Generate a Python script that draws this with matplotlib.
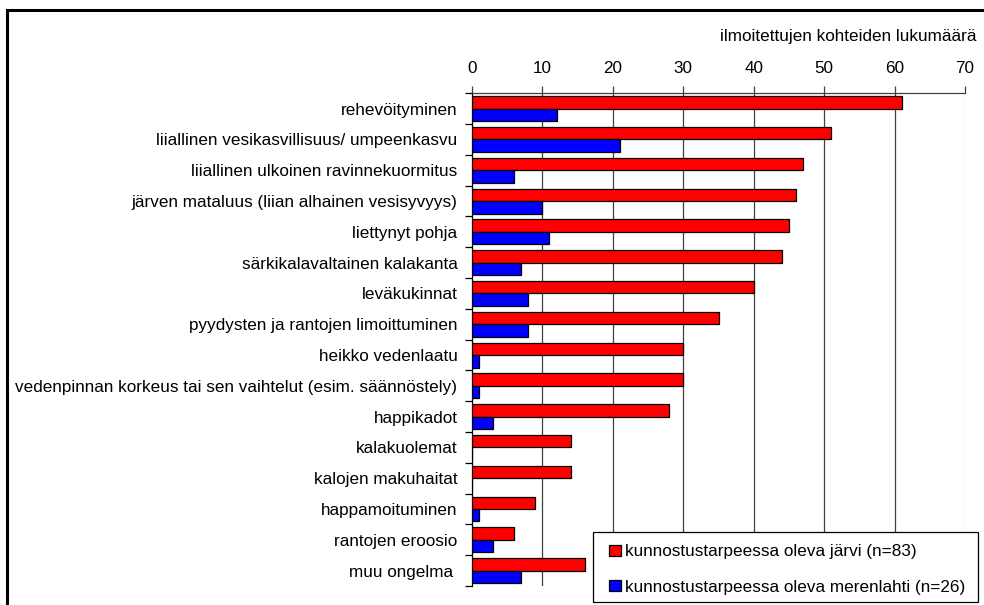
import matplotlib
matplotlib.use("Agg")
import matplotlib.pyplot as plt
from matplotlib.patches import Rectangle
import numpy as np

plt.rcParams['font.family'] = ['Liberation Sans', 'DejaVu Sans']

categories = [
    "rehevöityminen",
    "liiallinen vesikasvillisuus/ umpeenkasvu",
    "liiallinen ulkoinen ravinnekuormitus",
    "järven mataluus (liian alhainen vesisyvyys)",
    "liettynyt pohja",
    "särkikalavaltainen kalakanta",
    "leväkukinnat",
    "pyydysten ja rantojen limoittuminen",
    "heikko vedenlaatu",
    "vedenpinnan korkeus tai sen vaihtelut (esim. säännöstely)",
    "happikadot",
    "kalakuolemat",
    "kalojen makuhaitat",
    "happamoituminen",
    "rantojen eroosio",
    "muu ongelma ",
]
jarvi = [61, 51, 47, 46, 45, 44, 40, 35, 30, 30, 28, 14, 14, 9, 6, 16]
merenlahti = [12, 21, 6, 10, 11, 7, 8, 8, 1, 1, 3, 0, 0, 1, 3, 7]
xticks = [0, 10, 20, 30, 40, 50, 60, 70]
series_labels = ["kunnostustarpeessa oleva järvi (n=83)",
                 "kunnostustarpeessa oleva merenlahti (n=26)"]
axis_title = "ilmoitettujen kohteiden lukumäärä"

FS = 12.3
W, H = 984, 605
fig = plt.figure(figsize=(W / 100, H / 100), dpi=100)
ax = fig.add_axes([472 / W, 1 - 586 / H, (965 - 472) / W, (586 - 93.3) / H])

y = np.arange(len(categories))
h = 0.405
ax.barh(y - h / 2, jarvi, height=h, color='#ff0000', edgecolor='black', linewidth=0.9, zorder=3)
ax.barh(y + h / 2, merenlahti, height=h, color='#0000ff', edgecolor='black', linewidth=0.9, zorder=3)

ax.set_xlim(0, 70)
ax.set_ylim(len(categories) - 0.5, -0.5)

ax.xaxis.tick_top()
ax.set_xticks(xticks)
ax.set_xticklabels([str(v) for v in xticks], fontsize=FS)
ax.tick_params(axis='x', direction='out', length=5, width=0.9, color='#404040', pad=7.5)

ax.set_yticks(y)
ax.set_yticklabels(categories, fontsize=FS)
ax.set_yticks(np.arange(len(categories) + 1) - 0.5, minor=True)
ax.tick_params(axis='y', which='major', length=0, pad=10.5)
ax.tick_params(axis='y', which='minor', length=5, width=0.9, color='black', direction='out')

for v in xticks[1:-1]:
    ax.axvline(v, color='#404040', linewidth=0.9, zorder=1)
ax.axvline(70, color='#c8c8c8', linewidth=0.9, zorder=1)

for s in ['right', 'bottom']:
    ax.spines[s].set_visible(False)
ax.spines['top'].set_color('#404040')
ax.spines['top'].set_linewidth(0.9)
ax.spines['left'].set_color('black')
ax.spines['left'].set_linewidth(0.9)

fig.text(976 / W, 1 - 37 / H, axis_title, ha='right', va='center', fontsize=FS)

# legend box
legbox = Rectangle((593.3 / W, 1 - 601.7 / H), (978 - 593.3) / W, (601.7 - 532.3) / H,
                   transform=fig.transFigure, facecolor='white', edgecolor='black',
                   linewidth=0.9, zorder=5)
fig.add_artist(legbox)

handles = [Rectangle((0, 0), 1, 1, facecolor='#ff0000', edgecolor='black', linewidth=0.9),
           Rectangle((0, 0), 1, 1, facecolor='#0000ff', edgecolor='black', linewidth=0.9)]
leg = fig.legend(handles, series_labels, loc='center left',
                 bbox_to_anchor=(609.3 / W, 1 - (551 + 587.7) / 2 / H), bbox_transform=fig.transFigure,
                 fontsize=FS, frameon=False,
                 handlelength=0.68, handleheight=0.6, handletextpad=0.22,
                 labelspacing=1.2, borderpad=0, borderaxespad=0)
leg.set_zorder(6)

frame = Rectangle((7 / W, -0.2), 1.2, (H - 10) / H + 0.2, transform=fig.transFigure,
                  fill=False, edgecolor='black', linewidth=2.2, clip_on=False)
fig.add_artist(frame)

fig.savefig("out.png", dpi=100)
